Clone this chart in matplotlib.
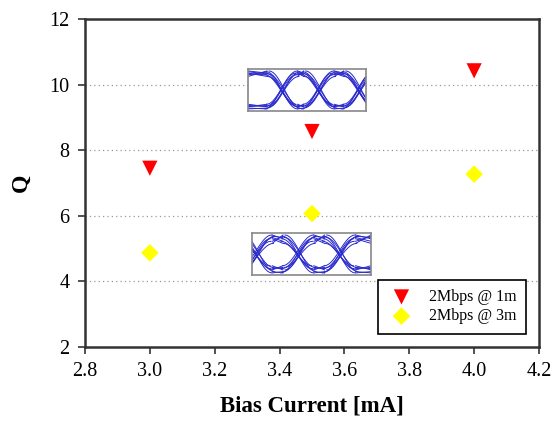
import matplotlib
matplotlib.use("Agg")
import matplotlib.pyplot as plt
import numpy as np

# ---- data ----
bias_current = [3.0, 3.5, 4.0]
q_1m = [7.45, 8.57, 10.42]
q_3m = [4.87, 6.07, 7.27]
series_labels = ["2Mbps @ 1m", "2Mbps @ 3m"]
x_ticks = [2.8, 3.0, 3.2, 3.4, 3.6, 3.8, 4.0, 4.2]
y_ticks = [2, 4, 6, 8, 10, 12]

# eye-diagram inset descriptions (relative coordinates inside each inset)
eye1_cross = [0.29, 0.60, 0.94]
eye1_hi = [0.86, 0.90, 0.93, 0.82, 0.88, 0.95]
eye1_lo = [0.10, 0.13, 0.07, 0.16, 0.11, 0.05]
eye2_cross = [0.04, 0.39, 0.74]
eye2_hi = [0.80, 0.86, 0.92, 0.75, 0.89, 0.95]
eye2_lo = [0.12, 0.18, 0.08, 0.22, 0.15, 0.05]

plt.rcParams['font.family'] = ['Liberation Serif', 'DejaVu Serif']

fig = plt.figure(figsize=(5.54, 4.24), dpi=100)
ax = fig.add_axes([85/554, 1-347/424, (539-85)/554, (347-19)/424])

ax.set_xlim(2.8, 4.2)
ax.set_ylim(2, 12)
ax.set_xticks(x_ticks)
ax.set_xticklabels([f"{v:.1f}" for v in x_ticks])
ax.set_yticks(y_ticks)
ax.tick_params(direction='out', length=5, width=1.2, labelsize=14.5, color='#333333', pad=6)
for s in ax.spines.values():
    s.set_color('#333333')
    s.set_linewidth(1.8)

for yv in y_ticks[1:-1]:
    ax.axhline(yv, color='#999999', lw=0.9, ls=(0, (1, 2.5)), zorder=0)

ax.scatter(bias_current, q_1m, marker='v', s=120, color='#ff0000', edgecolor='none', label=series_labels[0], zorder=3)
ax.scatter(bias_current, q_3m, marker='D', s=80, color='#ffff00', edgecolor='none', label=series_labels[1], zorder=3)

ax.set_xlabel("Bias Current [mA]", fontsize=16.5, fontweight='bold', labelpad=10)
ax.set_ylabel("Q", fontsize=17, fontweight='bold', labelpad=13)

leg = ax.legend(loc='lower right', bbox_to_anchor=(0.971, 0.04), borderaxespad=0, fontsize=11.5,
                frameon=True, fancybox=False, edgecolor='black', framealpha=1, handletextpad=0.8,
                borderpad=0.6, labelspacing=0.2, scatterpoints=1, handlelength=1.8)
leg.get_frame().set_linewidth(1.2)


def draw_eye(x0, x1, y0, y1, cross, hi, lo):
    iax = ax.inset_axes([x0, y0, x1 - x0, y1 - y0], transform=ax.transData)
    iax.set_xlim(0, 1)
    iax.set_ylim(0, 1)
    iax.set_xticks([])
    iax.set_yticks([])
    for s in iax.spines.values():
        s.set_color('#888888')
        s.set_linewidth(1.2)
    w = 0.13
    col = '#2a2acc'
    t = np.linspace(0, 1, 15)
    shape = 0.5 - 0.5 * np.cos(np.pi * t)
    edges = [0.0] + list(cross) + [1.0]
    n = len(hi)
    for i in range(n):
        h = hi[i]
        l = lo[i]
        h2 = hi[(i + 2) % n]
        l2 = lo[(i + 3) % n]
        for a, b in zip(edges[:-1], edges[1:]):
            a2 = a + w if a > 0 else 0
            b2 = b - w if b < 1 else 1
            if b2 > a2:
                iax.plot([a2, b2], [h, h2], color=col, lw=0.7)
                iax.plot([a2, b2], [l, l2], color=col, lw=0.7)
        for c in cross:
            d = (i - 2.5) * 0.007
            xs = c - w + d + 2 * w * t
            iax.plot(xs, h + (l2 - h) * shape, color=col, lw=0.7)
            xs = c - w - d + 2 * w * t
            iax.plot(xs, l + (h2 - l) * shape, color=col, lw=0.7)
    return iax


draw_eye(3.303, 3.667, 9.195, 10.48, eye1_cross, eye1_hi, eye1_lo)
draw_eye(3.315, 3.682, 4.195, 5.48, eye2_cross, eye2_hi, eye2_lo)

fig.savefig("out.png", dpi=100)
